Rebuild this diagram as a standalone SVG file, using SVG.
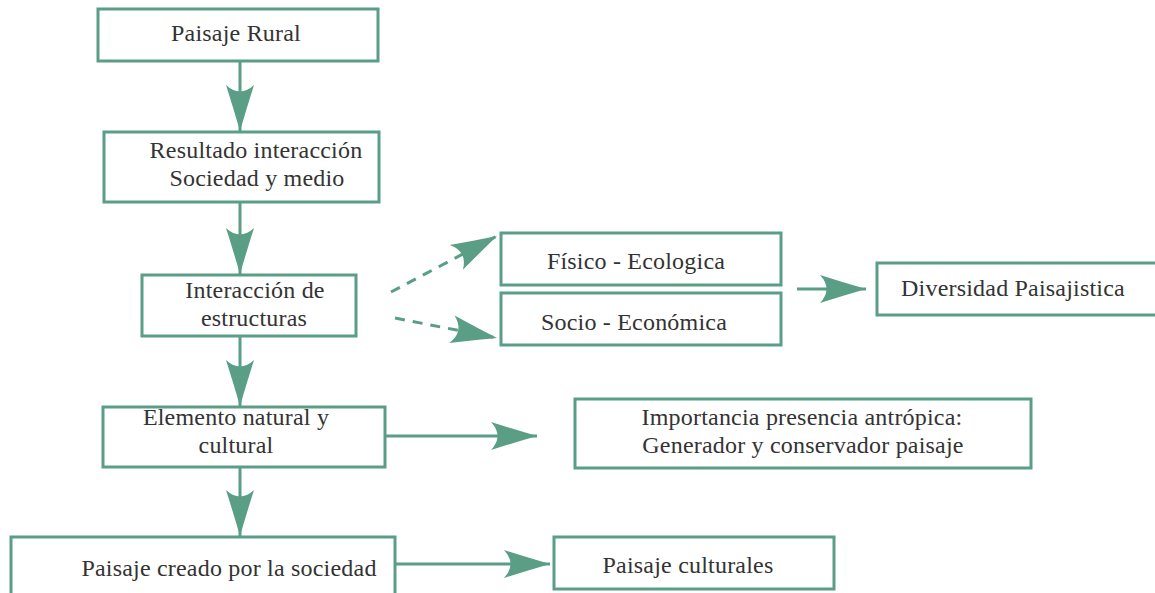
<svg xmlns="http://www.w3.org/2000/svg" width="1155" height="593" viewBox="0 0 1155 593">
<defs>
<style>
.box{fill:#fff;stroke:#5a9e86;stroke-width:3}
.lbl{font-family:"Liberation Serif","Times New Roman",serif;font-size:24px;fill:#333;text-anchor:middle;letter-spacing:0.2px}
.con{stroke:#5a9e86;stroke-width:3;fill:none}
.dash{stroke-dasharray:10,8}
</style>
<marker id="ah" markerUnits="userSpaceOnUse" markerWidth="48" markerHeight="30" refX="46" refY="14" orient="auto" overflow="visible">
<path d="M46,14 Q22,7 0,0 Q13,14 0,28 Q22,21 46,14 Z" fill="#5a9e86"/>
</marker>
</defs>
<rect width="1155" height="593" fill="#fff"/>
<g id="connectors">
<line class="con" x1="240" y1="61" x2="240" y2="131" marker-end="url(#ah)"/>
<line class="con" x1="240" y1="202" x2="240" y2="274" marker-end="url(#ah)"/>
<line class="con" x1="240" y1="336" x2="240" y2="406" marker-end="url(#ah)"/>
<line class="con" x1="240" y1="467" x2="240" y2="536" marker-end="url(#ah)"/>
<line class="con dash" x1="391" y1="292" x2="497" y2="236" marker-end="url(#ah)"/>
<line class="con dash" x1="395" y1="318" x2="497" y2="338" marker-end="url(#ah)"/>
<line class="con" x1="797" y1="289" x2="866" y2="289" marker-end="url(#ah)"/>
<line class="con" x1="386" y1="436" x2="537" y2="436" marker-end="url(#ah)"/>
<line class="con" x1="395" y1="564" x2="550" y2="564" marker-end="url(#ah)"/>
</g>
<g id="n1"><rect class="box" x="98" y="9" width="280" height="52"/><text class="lbl" x="236" y="41">Paisaje Rural</text></g>
<g id="n2"><rect class="box" x="104" y="132" width="275" height="70"/><text class="lbl" x="256" y="158">Resultado interacción</text><text class="lbl" x="257" y="186">Sociedad y medio</text></g>
<g id="n3"><rect class="box" x="142" y="275" width="214" height="61"/><text class="lbl" x="255" y="298">Interacción de</text><text class="lbl" x="254" y="326">estructuras</text></g>
<g id="n4"><rect class="box" x="501" y="233" width="280" height="52"/><text class="lbl" x="636" y="269">Físico - Ecologica</text></g>
<g id="n5"><rect class="box" x="501" y="293" width="280" height="52"/><text class="lbl" x="634" y="330">Socio - Económica</text></g>
<g id="n6"><rect class="box" x="877" y="263" width="280" height="52"/><text class="lbl" x="1013" y="296">Diversidad Paisajistica</text></g>
<g id="n7"><rect class="box" x="103" y="407" width="282" height="60"/><text class="lbl" x="236" y="425">Elemento natural y</text><text class="lbl" x="236" y="453">cultural</text></g>
<g id="n8"><rect class="box" x="575" y="399" width="456" height="69"/><text class="lbl" x="802" y="425">Importancia presencia antrópica:</text><text class="lbl" x="803" y="453">Generador y conservador paisaje</text></g>
<g id="n9"><rect class="box" x="11" y="537" width="384" height="60"/><text class="lbl" x="229" y="576">Paisaje creado por la sociedad</text></g>
<g id="n10"><rect class="box" x="554" y="537" width="280" height="52"/><text class="lbl" x="688" y="573">Paisaje culturales</text></g>
</svg>
